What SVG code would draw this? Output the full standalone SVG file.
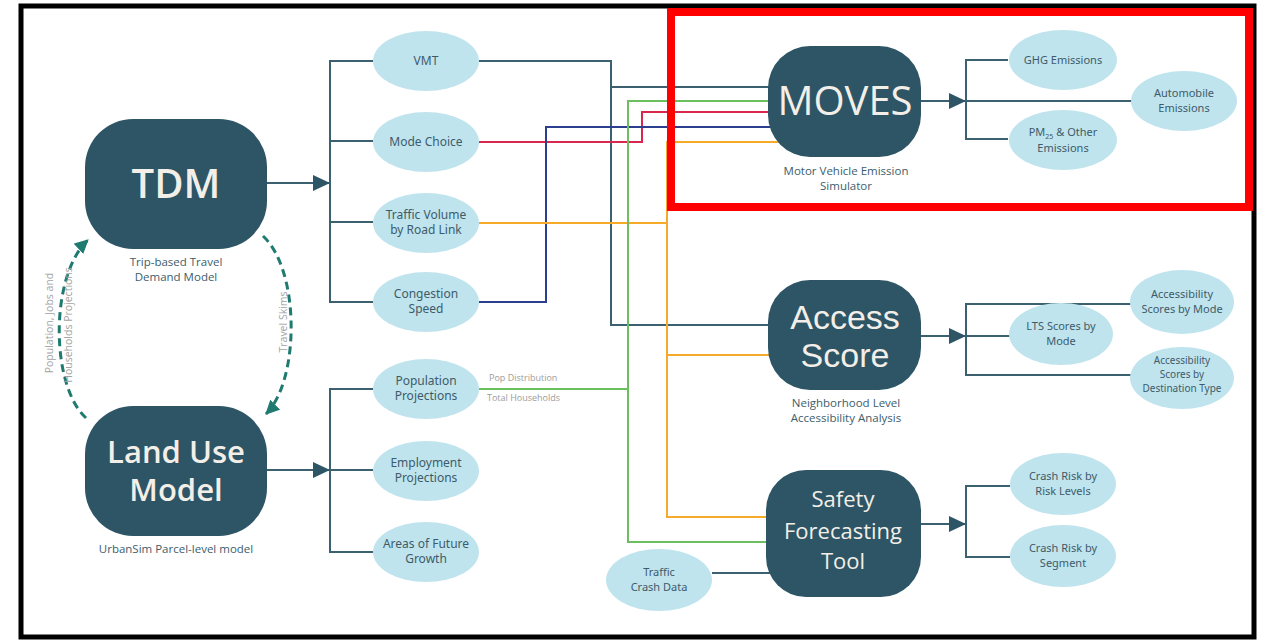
<svg xmlns="http://www.w3.org/2000/svg" width="1266" height="640" viewBox="0 0 1266 640">
<defs>
<marker id="ah" markerUnits="userSpaceOnUse" markerWidth="18" markerHeight="18" refX="17" refY="8" orient="auto"><path d="M0,0 L17,8 L0,16 z" fill="#2d5566"/></marker>
<marker id="ahd" markerUnits="userSpaceOnUse" markerWidth="16" markerHeight="16" refX="13" refY="7" orient="auto"><path d="M0,0 L14,7 L0,14 z" fill="#1f7a70"/></marker>
<style>
.box{fill:#2d5566}
.big{fill:#f3efe8;font-family:"Open Sans","Noto Sans",sans-serif;text-anchor:middle}
.big2{fill:#f3efe8;font-family:"Liberation Sans",Arial,sans-serif;text-anchor:middle}
.sub{fill:#3d5d6b;font-family:"Open Sans","Noto Sans",sans-serif;font-size:11.5px;text-anchor:middle}
.ell{fill:#bfe4ee}
.et{fill:#3e5b69;font-family:"Noto Sans","Open Sans",sans-serif;font-size:12px;text-anchor:middle}
.et2{fill:#3e5b69;font-family:"Noto Sans","Open Sans",sans-serif;font-size:11px;text-anchor:middle}
.et3{fill:#3e5b69;font-family:"Noto Sans","Open Sans",sans-serif;font-size:10px;text-anchor:middle}
.c{fill:none;stroke-width:2}
.dk{stroke:#3b6070}
.rd{stroke:#d8284d}
.bl{stroke:#2b3f8e}
.or{stroke:#f5aa2a}
.gr{stroke:#6cbf5e}
.dash{fill:none;stroke:#1f7a70;stroke-width:3;stroke-dasharray:8 5}
.lbl{fill:#9c9c9c;font-family:"Open Sans","Noto Sans",sans-serif;font-size:9px}
.rl{fill:#a3a3a3;font-family:"Open Sans","Noto Sans",sans-serif;font-size:10.5px;text-anchor:middle}
</style>
</defs>
<rect x="0" y="0" width="1266" height="640" fill="#ffffff"/>
<rect x="21" y="6" width="1233" height="631" fill="none" stroke="#000" stroke-width="5"/>

<g id="connectors">
<path class="c dk" d="M267 183 H330" marker-end="url(#ah)"/>
<path class="c dk" d="M373 61 H330 V302 H373 M330 141 H373 M330 222 H373"/>
<path class="c dk" d="M267 470 H330" marker-end="url(#ah)"/>
<path class="c dk" d="M373 389 H330 V552 H373 M330 470 H373"/>
<path class="c dk" d="M479 61 H611 V325 H790 M611 87 H790"/>
<path class="c rd" d="M479 142 H642 V112 H790"/>
<path class="c bl" d="M479 302 H546 V127 H790"/>
<path class="c or" d="M479 223 H667 M790 142 H667 V517 H790 M667 355 H790"/>
<path class="c gr" d="M479 389 H628 M790 101 H628 V542 H790"/>
<path class="c dk" d="M712 573 H790"/>
<path class="c dk" d="M921 101 H966" marker-end="url(#ah)"/>
<path class="c dk" d="M1008 60 H966 V139 H1008 M966 101 H1132"/>
<path class="c dk" d="M921 336 H966" marker-end="url(#ah)"/>
<path class="c dk" d="M1132 304 H966 V375 H1132 M966 336 H1010"/>
<path class="c dk" d="M921 524 H966" marker-end="url(#ah)"/>
<path class="c dk" d="M1010 486 H966 V557 H1010"/>
<path class="dash" d="M263 236 C300 270 300 380 266 414" marker-end="url(#ahd)"/>
<path class="dash" d="M86 418 C50 385 50 275 88 240" marker-end="url(#ahd)"/>
<text class="lbl" x="489" y="381">Pop Distribution</text>
<text class="lbl" x="487" y="401">Total Households</text>
<text class="rl" transform="translate(53 323) rotate(-90)">Population, Jobs and</text>
<text class="rl" transform="translate(72 325) rotate(-90)">Households Projections</text>
<text class="rl" transform="translate(287 322) rotate(-90)">Travel Skims</text>
</g>

<g id="tdm">
<rect class="box" x="85" y="119" width="182" height="130" rx="48"/>
<text class="big" x="176" y="198" font-size="40" font-weight="600">TDM</text>
<text class="sub" x="176" y="266">Trip-based Travel</text>
<text class="sub" x="176" y="281">Demand Model</text>
</g>
<g id="landuse">
<rect class="box" x="85" y="406" width="182" height="130" rx="48"/>
<text class="big" x="176" y="463" font-size="31" font-weight="600">Land Use</text>
<text class="big" x="176" y="501" font-size="31" font-weight="600">Model</text>
<text class="sub" x="176" y="553">UrbanSim Parcel-level model</text>
</g>

<g id="vmt"><ellipse class="ell" cx="426" cy="61" rx="53" ry="30"/><text class="et" x="426" y="65">VMT</text></g>
<g id="modechoice"><ellipse class="ell" cx="426" cy="142" rx="53" ry="30"/><text class="et" x="426" y="146">Mode Choice</text></g>
<g id="trafficvolume"><ellipse class="ell" cx="426" cy="223" rx="53" ry="30"/><text class="et" x="426" y="219">Traffic Volume</text><text class="et" x="426" y="234">by Road Link</text></g>
<g id="congestion"><ellipse class="ell" cx="426" cy="302" rx="53" ry="30"/><text class="et" x="426" y="298">Congestion</text><text class="et" x="426" y="313">Speed</text></g>
<g id="population"><ellipse class="ell" cx="426" cy="389" rx="53" ry="30"/><text class="et" x="426" y="385">Population</text><text class="et" x="426" y="400">Projections</text></g>
<g id="employment"><ellipse class="ell" cx="426" cy="471" rx="53" ry="30"/><text class="et" x="426" y="467">Employment</text><text class="et" x="426" y="482">Projections</text></g>
<g id="futuregrowth"><ellipse class="ell" cx="426" cy="552" rx="53" ry="30"/><text class="et" x="426" y="548">Areas of Future</text><text class="et" x="426" y="563">Growth</text></g>
<g id="crashdata"><ellipse class="ell" cx="659" cy="580" rx="53" ry="31"/><text class="et2" x="659" y="576">Traffic</text><text class="et2" x="659" y="591">Crash Data</text></g>

<g id="moves">
<rect class="box" x="768" y="46" width="153" height="111" rx="42"/>
<text class="big" x="845" y="115" font-size="40">MOVES</text>
<text class="sub" x="846" y="175">Motor Vehicle Emission</text>
<text class="sub" x="846" y="190">Simulator</text>
</g>
<g id="access">
<rect class="box" x="768" y="280" width="153" height="110" rx="42"/>
<text class="big2" x="845" y="329" font-size="34">Access</text>
<text class="big2" x="845" y="367" font-size="34">Score</text>
<text class="sub" x="846" y="407">Neighborhood Level</text>
<text class="sub" x="846" y="422">Accessibility Analysis</text>
</g>
<g id="safety">
<rect class="box" x="766" y="470" width="155" height="127" rx="40"/>
<text class="big" x="843" y="507" font-size="22" font-weight="500">Safety</text>
<text class="big" x="843" y="539" font-size="22" font-weight="500">Forecasting</text>
<text class="big" x="843" y="569" font-size="22" font-weight="500">Tool</text>
</g>

<g id="ghg"><ellipse class="ell" cx="1063" cy="60" rx="54" ry="30"/><text class="et2" x="1063" y="64">GHG Emissions</text></g>
<g id="automobile"><ellipse class="ell" cx="1184" cy="101" rx="53" ry="30"/><text class="et2" x="1184" y="97">Automobile</text><text class="et2" x="1184" y="112">Emissions</text></g>
<g id="pm25"><ellipse class="ell" cx="1063" cy="140" rx="54" ry="30"/><text class="et2" x="1063" y="136">PM<tspan font-size="7" dy="3">25</tspan><tspan dy="-3"> &amp; Other</tspan></text><text class="et2" x="1063" y="152">Emissions</text></g>
<g id="accessmode"><ellipse class="ell" cx="1182" cy="302" rx="52" ry="32"/><text class="et2" x="1182" y="298">Accessibility</text><text class="et2" x="1182" y="313">Scores by Mode</text></g>
<g id="lts"><ellipse class="ell" cx="1061" cy="334" rx="52" ry="31"/><text class="et2" x="1061" y="330">LTS Scores by</text><text class="et2" x="1061" y="345">Mode</text></g>
<g id="accessdest"><ellipse class="ell" cx="1182" cy="378" rx="52" ry="31"/><text class="et3" x="1182" y="364">Accessibility</text><text class="et3" x="1182" y="378">Scores by</text><text class="et3" x="1182" y="392">Destination Type</text></g>
<g id="risklevels"><ellipse class="ell" cx="1063" cy="484" rx="53" ry="31"/><text class="et2" x="1063" y="480">Crash Risk by</text><text class="et2" x="1063" y="495">Risk Levels</text></g>
<g id="segment"><ellipse class="ell" cx="1063" cy="556" rx="53" ry="31"/><text class="et2" x="1063" y="552">Crash Risk by</text><text class="et2" x="1063" y="567">Segment</text></g>

<g id="highlight"><rect x="671" y="12" width="578" height="195" fill="none" stroke="#ff0000" stroke-width="8"/></g>
</svg>
